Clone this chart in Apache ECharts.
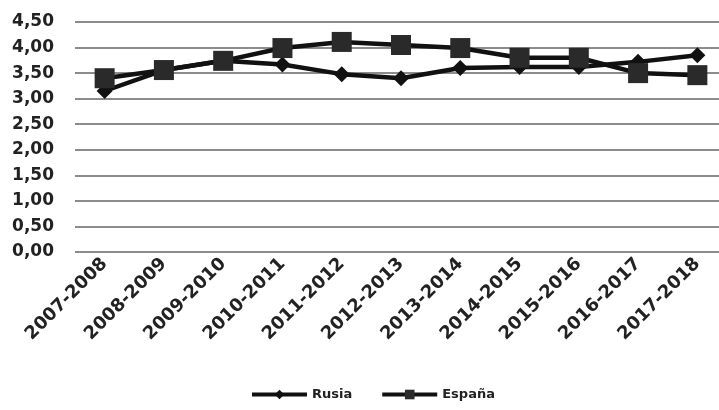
<!DOCTYPE html>
<html>
<head>
<meta charset="utf-8">
<script src="https://cdn.jsdelivr.net/npm/echarts@6/dist/echarts.min.js"></script>
<style>
html,body{margin:0;padding:0;background:#fff;}
#c{width:719px;height:410px;}
</style>
</head>
<body>
<div id="c"></div>
<script>
const categories = ["2007-2008","2008-2009","2009-2010","2010-2011","2011-2012","2012-2013","2013-2014","2014-2015","2015-2016","2016-2017","2017-2018"];
const rusia = [3.15, 3.56, 3.74, 3.67, 3.48, 3.40, 3.60, 3.62, 3.62, 3.72, 3.85];
const espana = [3.40, 3.56, 3.74, 3.99, 4.11, 4.05, 3.99, 3.80, 3.80, 3.50, 3.46];

const chart = echarts.init(document.getElementById('c'));
const FONT = 'DejaVu Sans';
chart.setOption({
  animation: false,
  backgroundColor: '#fff',
  grid: { left: 75, width: 652, top: 22, height: 230, outerBoundsMode: 'none', containLabel: false },
  legend: {
    top: 388,
    left: 250,
    padding: 0,
    itemWidth: 55,
    itemHeight: 12,
    itemGap: 28,
    lineStyle: { width: 4, color: '#111' },
    textStyle: { fontFamily: FONT, fontWeight: 'bold', fontSize: 13, color: '#222' },
    data: ['Rusia', 'España']
  },
  xAxis: {
    type: 'category',
    data: categories,
    boundaryGap: true,
    axisLine: { show: false },
    axisTick: { show: false },
    axisLabel: { rotate: 45, margin: 9, fontFamily: FONT, fontWeight: 'bold', fontSize: 18, color: '#222', interval: 0 }
  },
  yAxis: {
    type: 'value',
    min: 0, max: 4.5, interval: 0.5,
    axisLine: { show: false },
    axisTick: { show: false },
    axisLabel: {
      margin: 21,
      fontFamily: FONT, fontWeight: 'bold', fontSize: 17, color: '#222',
      formatter: v => v.toFixed(2).replace('.', ',')
    },
    splitLine: { lineStyle: { color: '#8c8c8c', width: 2 } }
  },
  series: [
    {
      name: 'Rusia', type: 'line', data: rusia,
      symbol: 'diamond', symbolSize: 16,
      lineStyle: { color: '#111', width: 4.5 },
      itemStyle: { color: '#111' }
    },
    {
      name: 'España', type: 'line', data: espana,
      symbol: 'rect', symbolSize: 20,
      lineStyle: { color: '#111', width: 4.5 },
      itemStyle: { color: '#2a2a2a' }
    }
  ]
});
</script>
</body>
</html>
